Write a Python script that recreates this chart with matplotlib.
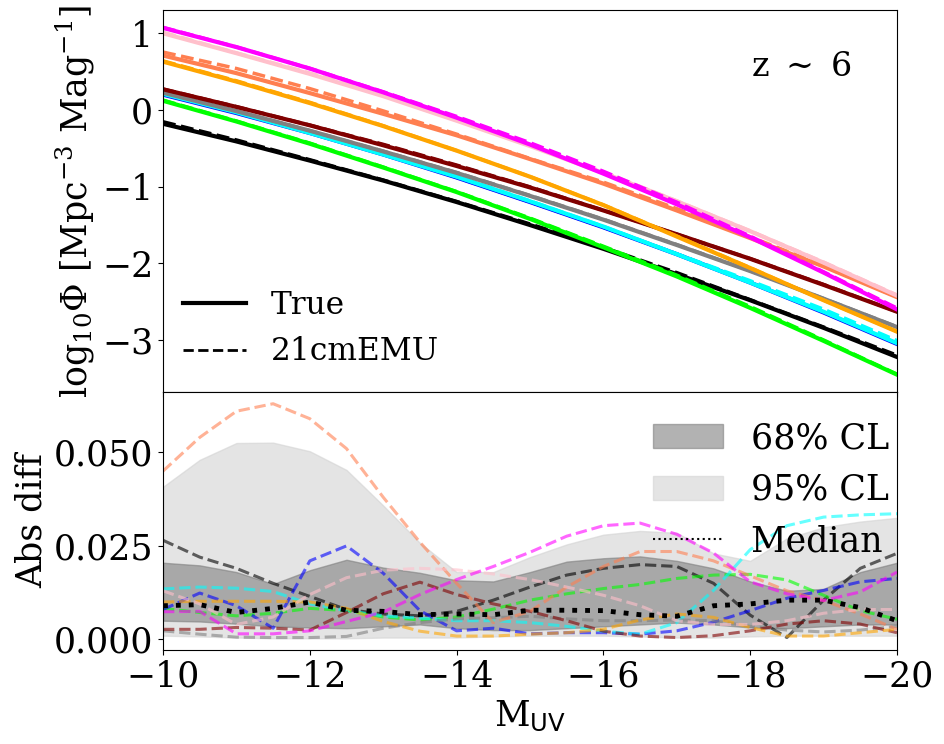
import numpy as np
import matplotlib
matplotlib.use("Agg")
import matplotlib.pyplot as plt
from matplotlib.lines import Line2D
from matplotlib.patches import Patch

plt.rcParams['font.family'] = 'serif'
plt.rcParams['font.serif'] = ['DejaVu Serif']
plt.rcParams['mathtext.fontset'] = 'dejavuserif'

# magnitudes
muv_top = [-10, -11, -12, -13, -14, -15, -16, -17, -18, -19, -20]
muv_bot = [-10, -10.5, -11, -11.5, -12, -12.5, -13, -13.5, -14, -14.5, -15,
           -15.5, -16, -16.5, -17, -17.5, -18, -18.5, -19, -19.5, -20]

colors = ['black', 'lime', 'blue', 'cyan', 'grey', 'maroon', 'orange', 'coral', 'pink', 'magenta']

# true log10 Phi
true_black = [-0.18, -0.41, -0.66, -0.92, -1.20, -1.50, -1.81, -2.14, -2.48, -2.84, -3.22]
true_lime = [0.12, -0.15, -0.44, -0.75, -1.07, -1.42, -1.79, -2.17, -2.58, -3.01, -3.45]
true_blue = [0.20, -0.04, -0.30, -0.58, -0.88, -1.20, -1.53, -1.88, -2.25, -2.64, -3.05]
true_cyan = [0.21, -0.03, -0.30, -0.58, -0.87, -1.19, -1.52, -1.88, -2.25, -2.63, -3.04]
true_grey = [0.225, -0.015, -0.27, -0.54, -0.82, -1.12, -1.43, -1.76, -2.10, -2.46, -2.83]
true_maroon = [0.27, 0.04, -0.20, -0.46, -0.73, -1.01, -1.31, -1.62, -1.94, -2.28, -2.63]
true_orange = [0.63, 0.37, 0.09, -0.21, -0.53, -0.87, -1.24, -1.65, -2.06, -2.48, -2.89]
true_coral = [0.71, 0.48, 0.22, -0.05, -0.33, -0.64, -0.96, -1.31, -1.67, -2.04, -2.44]
true_pink = [1.00, 0.74, 0.47, 0.18, -0.14, -0.47, -0.82, -1.19, -1.58, -1.99, -2.42]
true_magenta = [1.07, 0.82, 0.54, 0.23, -0.10, -0.45, -0.83, -1.23, -1.66, -2.12, -2.60]

# |true - emulated| per model
diff_black = [0.0265, 0.022, 0.019, 0.015, 0.0115, 0.008, 0.0068, 0.0063, 0.0075, 0.0105, 0.014,
              0.0172, 0.019, 0.020, 0.0195, 0.015, 0.0065, 0.0005, 0.0105, 0.019, 0.023]
diff_lime = [0.0083, 0.0072, 0.0063, 0.007, 0.0083, 0.0077, 0.006, 0.0052, 0.006, 0.0081, 0.0105,
             0.0122, 0.0136, 0.0147, 0.0163, 0.0172, 0.0174, 0.0159, 0.0118, 0.0077, 0.0054]
diff_blue = [0.008, 0.0124, 0.009, 0.003, 0.021, 0.025, 0.0177, 0.0077, 0.0023, 0.003, 0.0015,
             0.0018, 0.0018, 0.0014, 0.0023, 0.0046, 0.0077, 0.011, 0.0131, 0.0154, 0.0163]
diff_cyan = [0.0135, 0.014, 0.0137, 0.0128, 0.0095, 0.0077, 0.0063, 0.0057, 0.005, 0.005, 0.0045,
             0.0035, 0.0022, 0.0014, 0.0045, 0.0131, 0.024, 0.0304, 0.0327, 0.0333, 0.0336]
diff_grey = [0.0023, 0.0014, 0.0006, 0.0005, 0.0005, 0.0008, 0.003, 0.0045, 0.0055, 0.0058, 0.0062,
             0.0055, 0.005, 0.005, 0.0052, 0.005, 0.0035, 0.0025, 0.002, 0.0025, 0.0035]
diff_maroon = [0.0027, 0.0027, 0.0032, 0.003, 0.0025, 0.0072, 0.0122, 0.0153, 0.012, 0.0095, 0.0075,
               0.005, 0.0022, 0.0009, 0.0005, 0.001, 0.0023, 0.0041, 0.005, 0.0041, 0.0018]
diff_orange = [0.010, 0.0102, 0.0102, 0.0102, 0.010, 0.0083, 0.0048, 0.0022, 0.0009, 0.0009, 0.0014,
               0.0018, 0.0027, 0.0052, 0.0068, 0.0059, 0.0032, 0.0009, 0.0009, 0.0018, 0.0027]
diff_coral = [0.045, 0.054, 0.061, 0.063, 0.059, 0.051, 0.038, 0.026, 0.015, 0.0045, 0.0075,
              0.014, 0.0195, 0.0235, 0.0235, 0.021, 0.017, 0.013, 0.0104, 0.0068, 0.0027]
diff_pink = [0.013, 0.0095, 0.004, 0.006, 0.012, 0.0165, 0.0185, 0.019, 0.0186, 0.0175, 0.016,
             0.014, 0.0118, 0.009, 0.005, 0.004, 0.004, 0.005, 0.007, 0.008, 0.008]
diff_magenta = [0.0074, 0.0075, 0.0015, 0.0015, 0.0023, 0.0048, 0.0073, 0.012, 0.016, 0.0195, 0.0233,
                0.0276, 0.0304, 0.0311, 0.0281, 0.0231, 0.0154, 0.0122, 0.0104, 0.0127, 0.018]

# median and confidence bands of the abs diff
diff_median = [0.009, 0.0093, 0.0072, 0.0083, 0.010, 0.0078, 0.0075, 0.0066, 0.0068, 0.0066, 0.0078,
               0.0078, 0.0077, 0.0066, 0.0062, 0.009, 0.0095, 0.0105, 0.0105, 0.0085, 0.005]
ci68_lo = [0.005, 0.0048, 0.0042, 0.0035, 0.0032, 0.003, 0.0035, 0.004, 0.003, 0.0025, 0.0025,
           0.003, 0.0035, 0.004, 0.0045, 0.004, 0.0032, 0.003, 0.0035, 0.004, 0.004]
ci68_hi = [0.0205, 0.0198, 0.018, 0.0148, 0.0185, 0.0213, 0.0192, 0.0178, 0.0158, 0.0155, 0.018,
           0.0208, 0.0217, 0.0222, 0.021, 0.019, 0.0155, 0.013, 0.0135, 0.018, 0.0205]
ci95_lo = [0.001, 0.0008, 0.0005, 0.0003, 0.0003, 0.0003, 0.0005, 0.0005, 0.0005, 0.0008, 0.001,
           0.001, 0.001, 0.0008, 0.0005, 0.0005, 0.0008, 0.001, 0.001, 0.001, 0.001]
ci95_hi = [0.0408, 0.048, 0.0525, 0.0526, 0.0503, 0.0453, 0.0358, 0.0258, 0.018, 0.018, 0.022,
           0.0254, 0.028, 0.029, 0.0285, 0.023, 0.021, 0.027, 0.030, 0.0315, 0.0325]

true_all = [true_black, true_lime, true_blue, true_cyan, true_grey,
            true_maroon, true_orange, true_coral, true_pink, true_magenta]
diff_all = [diff_black, diff_lime, diff_blue, diff_cyan, diff_grey,
            diff_maroon, diff_orange, diff_coral, diff_pink, diff_magenta]

fig, (ax1, ax2) = plt.subplots(2, 1, sharex=True, figsize=(9.44, 7.44), dpi=100,
                               gridspec_kw={'height_ratios': [382, 258]})
fig.subplots_adjust(left=0.1727, right=0.9502, top=0.9866, bottom=0.1263, hspace=0)

# top: luminosity functions
for c, t, d in zip(colors, true_all, diff_all):
    t = np.array(t)
    emu = t + np.array(d)[::2]  # emulated = true + residual
    ax1.plot(muv_top, t, color=c, lw=3, ls='-')
    ax1.plot(muv_top, emu, color=c, lw=2.5, ls='--')

ax1.set_ylabel(r'log$_{10}\Phi$ [Mpc$^{-3}$ Mag$^{-1}$]', fontsize=25)
ax1.set_yticks([-3, -2, -1, 0, 1])
ax1.tick_params(labelsize=25)
ax1.text(0.869, 0.85, r'z $\sim$ 6', transform=ax1.transAxes, fontsize=24, ha='center', va='center')
leg1 = [Line2D([0], [0], color='black', lw=3, ls='-', label='True'),
        Line2D([0], [0], color='black', lw=2, ls='--', label='21cmEMU')]
ax1.legend(handles=leg1, loc='lower left', fontsize=22.5, frameon=False,
           borderaxespad=0.25, bbox_to_anchor=(0.0, 0.011))

# bottom: abs diff
ax2.fill_between(muv_bot, ci95_lo, ci95_hi, color='lightgray', alpha=0.6)
ax2.fill_between(muv_bot, ci68_lo, ci68_hi, color='gray', alpha=0.6)
for c, d in zip(colors, diff_all):
    ax2.plot(muv_bot, d, color=c, lw=2.2, ls='--', alpha=0.6)
ax2.plot(muv_bot, diff_median, color='black', lw=3.5, ls=':')

ax2.set_xlim(-10, -20)
ax2.set_yticks([0.0, 0.025, 0.05])
ax2.set_yticklabels(['0.000', '0.025', '0.050'])
ax2.tick_params(labelsize=25)
ax2.set_ylabel('Abs diff', fontsize=25)
ax2.set_xlabel(r'M$_{\mathsf{UV}}$', fontsize=25)
leg2 = [Patch(facecolor='gray', alpha=0.6, edgecolor='gray', label='68% CL'),
        Patch(facecolor='lightgray', alpha=0.6, edgecolor='lightgray', label='95% CL'),
        Line2D([0], [0], color='black', lw=1.5, ls=':', label='Median')]
ax2.legend(handles=leg2, loc='upper right', fontsize=25, frameon=False,
           borderaxespad=0.3, bbox_to_anchor=(1.022, 0.98))

fig.savefig('out.png', dpi=100)
